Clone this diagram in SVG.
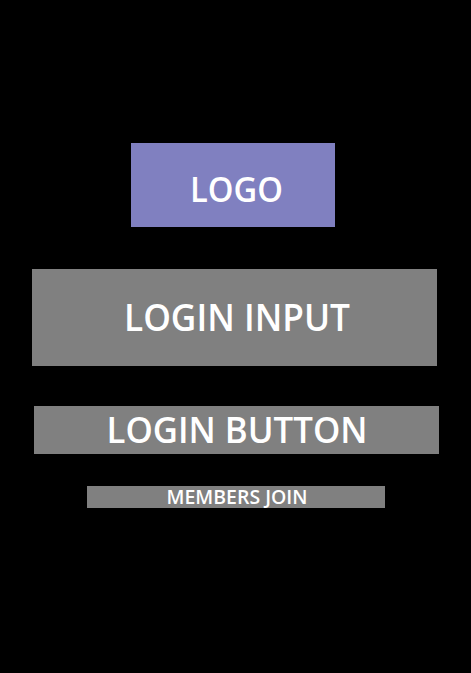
<svg xmlns="http://www.w3.org/2000/svg" width="471" height="673" viewBox="0 0 471 673">
<style>
.t{font-family:"Open Sans","Noto Sans","DejaVu Sans",sans-serif;font-weight:600;fill:#ffffff;text-anchor:middle}
.g{fill:#808080}
</style>
<rect x="0" y="0" width="471" height="673" fill="#000000"/>
<g id="logo">
<rect x="131" y="143" width="204" height="84" fill="#8080C0"/>
<text class="t" x="236.5" y="202" font-size="34" textLength="93" lengthAdjust="spacingAndGlyphs">LOGO</text>
</g>
<g id="login-input">
<rect class="g" x="32" y="269" width="405" height="97"/>
<text class="t" x="237" y="331" font-size="37" textLength="226" lengthAdjust="spacingAndGlyphs">LOGIN INPUT</text>
</g>
<g id="login-button">
<rect class="g" x="34" y="406" width="405" height="48"/>
<text class="t" x="237" y="442.5" font-size="36" textLength="261" lengthAdjust="spacingAndGlyphs">LOGIN BUTTON</text>
</g>
<g id="members-join">
<rect class="g" x="87" y="486" width="298" height="22"/>
<text class="t" x="237" y="504" font-size="19" textLength="141" lengthAdjust="spacingAndGlyphs">MEMBERS JOIN</text>
</g>
<g id="connectors"></g>
</svg>
